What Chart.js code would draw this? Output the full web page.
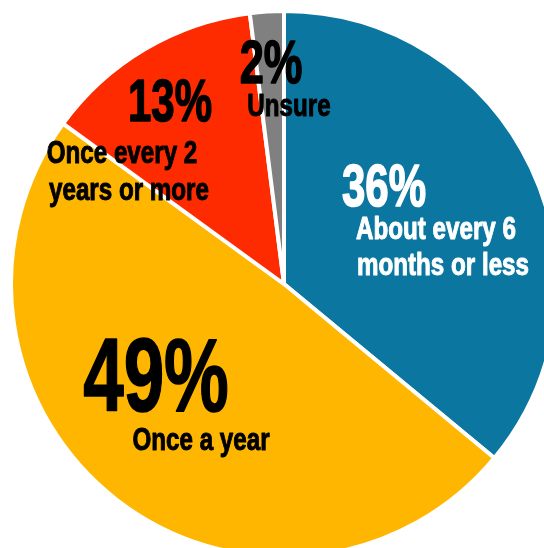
<!DOCTYPE html>
<html>
<head>
<meta charset="utf-8">
<script src="https://cdn.jsdelivr.net/npm/chart.js@4.4.1/dist/chart.umd.min.js"></script>
<style>
  html, body { margin: 0; padding: 0; background: #ffffff; }
  #wrap { position: relative; width: 544px; height: 548px; overflow: hidden; }
</style>
</head>
<body>
<div id="wrap"><canvas id="pie"></canvas></div>
<script>
// How often people do it: survey shares (percent)
const categories = ['About every 6 months or less', 'Once a year', 'Once every 2 years or more', 'Unsure'];
const shares = [36, 49, 13, 2];
// Category names as they are broken over lines on the slices
const labelLines = [
  ['About every 6', 'months or less'],
  ['Once a year'],
  ['Once every 2', 'years or more'],
  ['Unsure']
];
const sliceColors = ['#0b77a1', '#ffb600', '#ff2b00', '#808080'];

// Label placement relative to the pie centre: percentage and text lines (centre x, baseline y)
const labelLayout = [
  { color: '#ffffff', pct: { x: 100, y: -78, size: 60 },  lines: [{ x: 152, y: -45 }, { x: 159, y: -9 }] },
  { color: '#000000', pct: { x: -128, y: 127, size: 104 }, lines: [{ x: -83, y: 166 }] },
  { color: '#000000', pct: { x: -114, y: -163, size: 60 }, lines: [{ x: -162, y: -121 }, { x: -155, y: -84 }] },
  { color: '#000000', pct: { x: -13, y: -201, size: 62 },  lines: [{ x: 5, y: -168 }] }
];

const FONT = "'Liberation Sans', Arial, sans-serif";

// Bold text squeezed horizontally for a tall, condensed look
function drawCondensed(ctx, text, x, y, size, sx, color) {
  ctx.save();
  ctx.translate(x, y);
  ctx.scale(sx, 1);
  ctx.font = 'bold ' + size + 'px ' + FONT;
  ctx.textAlign = 'center';
  ctx.textBaseline = 'alphabetic';
  ctx.fillStyle = color;
  ctx.strokeStyle = color;
  ctx.lineWidth = size > 50 ? 1.6 : 1.0;
  ctx.lineJoin = 'round';
  ctx.fillText(text, 0, 0);
  ctx.strokeText(text, 0, 0);
  ctx.restore();
}

const sliceLabels = {
  id: 'sliceLabels',
  afterDatasetsDraw(chart) {
    const ctx = chart.ctx;
    const meta = chart.getDatasetMeta(0);
    meta.data.forEach((arc, i) => {
      const cfg = labelLayout[i];
      const cx = arc.x, cy = arc.y;
      drawCondensed(ctx, shares[i] + '%', cx + cfg.pct.x, cy + cfg.pct.y, cfg.pct.size, 0.70, cfg.color);
      labelLines[i].forEach((line, j) => {
        const p = cfg.lines[j];
        drawCondensed(ctx, line, cx + p.x, cy + p.y, 31, 0.78, cfg.color);
      });
    });
  }
};

new Chart(document.getElementById('pie'), {
  type: 'pie',
  data: {
    labels: categories,
    datasets: [{
      data: shares,
      backgroundColor: sliceColors,
      borderColor: '#ffffff',
      borderWidth: 4,
      radius: 273,
      clip: false
    }]
  },
  options: {
    responsive: true,
    maintainAspectRatio: false,
    animation: false,
    layout: { padding: { left: 24, top: 20, right: 0, bottom: 0 } },
    plugins: {
      legend: { display: false },
      tooltip: { enabled: false }
    }
  },
  plugins: [sliceLabels]
});
</script>
</body>
</html>
